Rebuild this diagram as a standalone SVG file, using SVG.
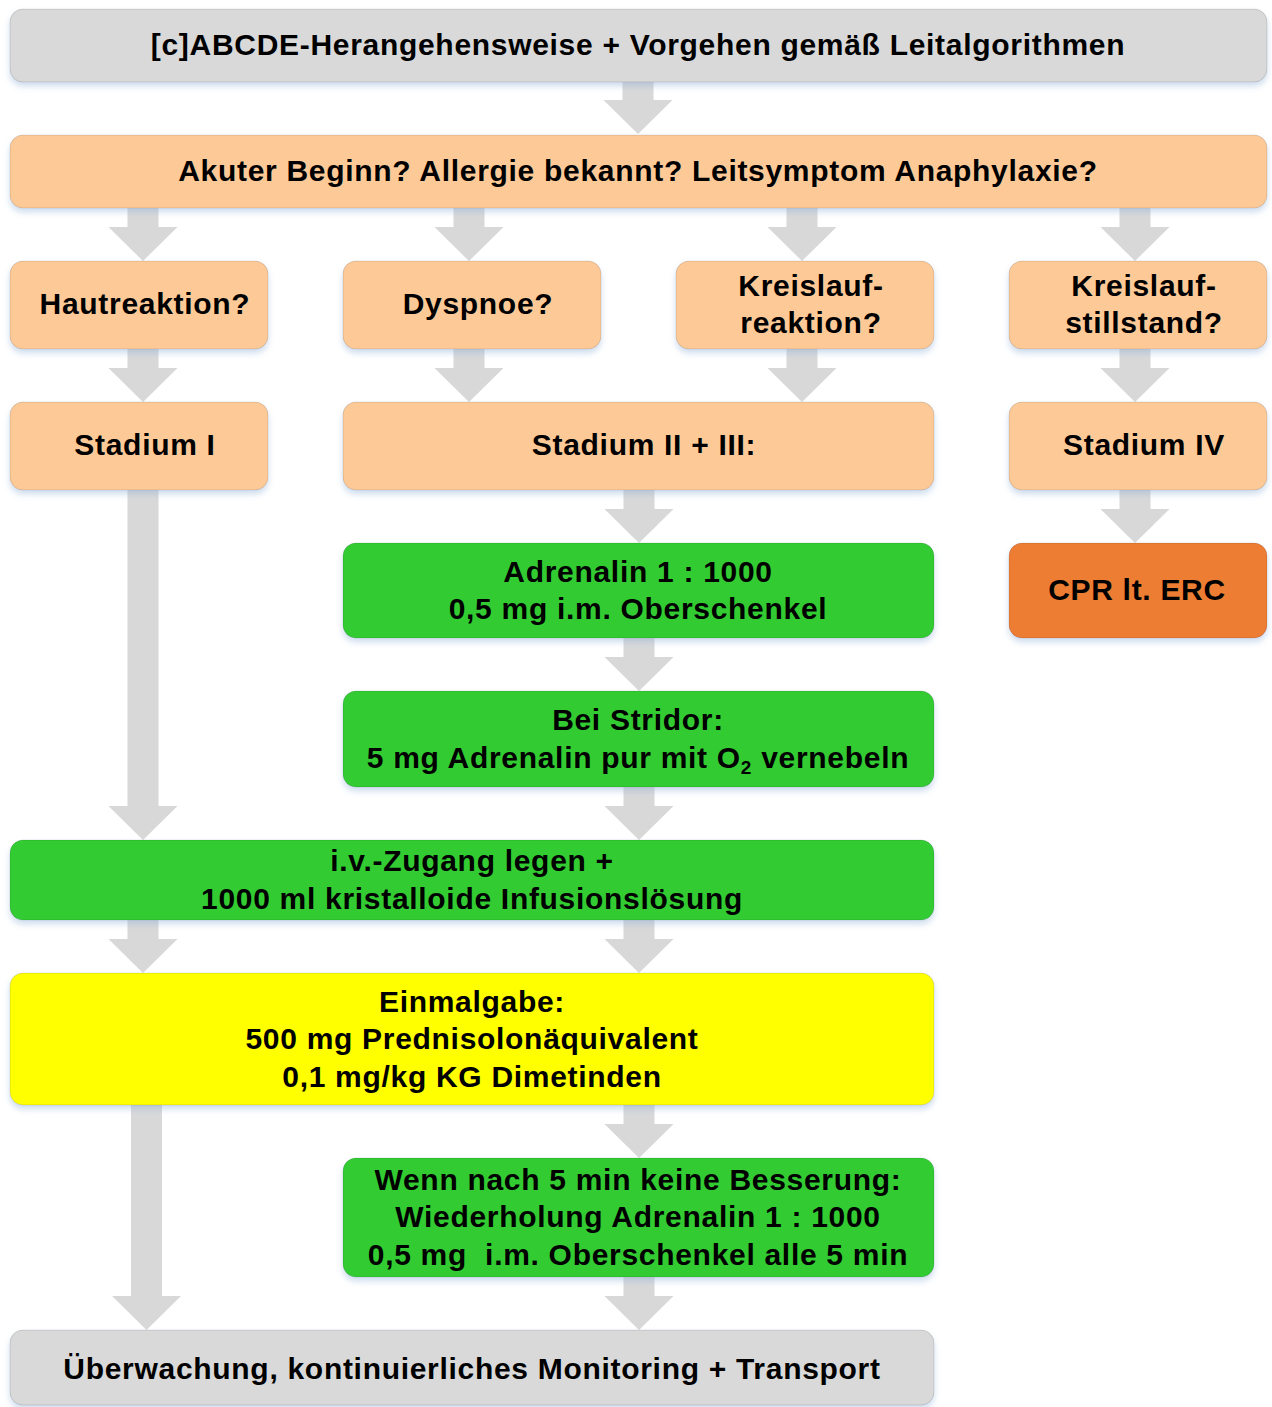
<svg xmlns="http://www.w3.org/2000/svg" width="1272" height="1407" viewBox="0 0 1272 1407">
<defs>
<filter id="sh" x="-5%" y="-20%" width="110%" height="150%">
<feDropShadow dx="0" dy="4" stdDeviation="3" flood-color="#8fb0d8" flood-opacity="0.45"/>
</filter>
<style>
.box{stroke:#000;stroke-opacity:0.13;stroke-width:1;filter:url(#sh)}
.gray{fill:#d9d9d9}
.peach{fill:#fdca97}
.green{fill:#33cc33}
.yellow{fill:#ffff00}
.orange{fill:#ed7d31}
.arr{fill:#d8d8d8}
text{font-family:"Liberation Sans",Arial,sans-serif;font-weight:bold;font-size:30px;fill:#000;text-anchor:middle;letter-spacing:0.7px}
.sub{font-size:19px}
</style>
</defs>
<rect width="1272" height="1407" fill="#fff"/>
<g id="connectors">
<path class="arr" d="M622.5,82H653.5V100H672.5L638,134L603.5,100H622.5Z"/>
<path class="arr" d="M127.5,208H158.5V227H177.5L143,261L108.5,227H127.5Z"/>
<path class="arr" d="M453.5,208H484.5V227H503.5L469,261L434.5,227H453.5Z"/>
<path class="arr" d="M786.5,208H817.5V227H836.5L802,261L767.5,227H786.5Z"/>
<path class="arr" d="M1119.5,208H1150.5V227H1169.5L1135,261L1100.5,227H1119.5Z"/>
<path class="arr" d="M127.5,349H158.5V368H177.5L143,402L108.5,368H127.5Z"/>
<path class="arr" d="M453.5,349H484.5V368H503.5L469,402L434.5,368H453.5Z"/>
<path class="arr" d="M786.5,349H817.5V368H836.5L802,402L767.5,368H786.5Z"/>
<path class="arr" d="M1119.5,349H1150.5V368H1169.5L1135,402L1100.5,368H1119.5Z"/>
<path class="arr" d="M127.5,490H158.5V806H177.5L143,840L108.5,806H127.5Z"/>
<path class="arr" d="M623.5,490H654.5V509H673.5L639,543L604.5,509H623.5Z"/>
<path class="arr" d="M1119.5,490H1150.5V509H1169.5L1135,543L1100.5,509H1119.5Z"/>
<path class="arr" d="M623.5,638H654.5V657H673.5L639,691L604.5,657H623.5Z"/>
<path class="arr" d="M623.5,787H654.5V806H673.5L639,840L604.5,806H623.5Z"/>
<path class="arr" d="M127.5,920H158.5V939H177.5L143,973L108.5,939H127.5Z"/>
<path class="arr" d="M623.5,920H654.5V939H673.5L639,973L604.5,939H623.5Z"/>
<path class="arr" d="M131,1105H162V1296H181L146.5,1330L112,1296H131Z"/>
<path class="arr" d="M623.5,1105H654.5V1124H673.5L639,1158L604.5,1124H623.5Z"/>
<path class="arr" d="M623.5,1277H654.5V1296H673.5L639,1330L604.5,1296H623.5Z"/>
</g>
<g id="n-abcde"><rect class="box gray" x="10" y="9" width="1257" height="73" rx="13"/><text x="638" y="55">[c]ABCDE-Herangehensweise + Vorgehen gemäß Leitalgorithmen</text></g>
<g id="n-akut"><rect class="box peach" x="10" y="135" width="1257" height="73" rx="13"/><text x="638" y="181">Akuter Beginn? Allergie bekannt? Leitsymptom Anaphylaxie?</text></g>
<g id="n-haut"><rect class="box peach" x="10" y="261" width="258" height="88" rx="13"/><text x="145" y="314">Hautreaktion?</text></g>
<g id="n-dysp"><rect class="box peach" x="343" y="261" width="258" height="88" rx="13"/><text x="478" y="314">Dyspnoe?</text></g>
<g id="n-kreisr"><rect class="box peach" x="676" y="261" width="258" height="88" rx="13"/><text x="811" y="296">Kreislauf-</text><text x="811" y="333">reaktion?</text></g>
<g id="n-kreiss"><rect class="box peach" x="1009" y="261" width="258" height="88" rx="13"/><text x="1144" y="296">Kreislauf-</text><text x="1144" y="333">stillstand?</text></g>
<g id="n-st1"><rect class="box peach" x="10" y="402" width="258" height="88" rx="13"/><text x="145" y="455">Stadium I</text></g>
<g id="n-st23"><rect class="box peach" x="343" y="402" width="591" height="88" rx="13"/><text x="644" y="455">Stadium II + III:</text></g>
<g id="n-st4"><rect class="box peach" x="1009" y="402" width="258" height="88" rx="13"/><text x="1144" y="455">Stadium IV</text></g>
<g id="n-adr"><rect class="box green" x="343" y="543" width="591" height="95" rx="13"/><text x="638" y="582">Adrenalin 1 : 1000</text><text x="638" y="619">0,5 mg i.m. Oberschenkel</text></g>
<g id="n-cpr"><rect class="box orange" x="1009" y="543" width="258" height="95" rx="13"/><text x="1137" y="600">CPR lt. ERC</text></g>
<g id="n-stridor"><rect class="box green" x="343" y="691" width="591" height="96" rx="13"/><text x="638" y="768">5 mg Adrenalin pur mit O<tspan class="sub" dy="6">2</tspan><tspan dy="-6"> vernebeln</tspan></text><text x="638" y="730">Bei Stridor:</text></g>
<g id="n-iv"><rect class="box green" x="10" y="840" width="924" height="80" rx="13"/><text x="472" y="871">i.v.-Zugang legen +</text><text x="472" y="909">1000 ml kristalloide Infusionslösung</text></g>
<g id="n-einmal"><rect class="box yellow" x="10" y="973" width="924" height="132" rx="13"/><text x="472" y="1012">Einmalgabe:</text><text x="472" y="1049">500 mg Prednisolonäquivalent</text><text x="472" y="1087">0,1 mg/kg KG Dimetinden</text></g>
<g id="n-wenn"><rect class="box green" x="343" y="1158" width="591" height="119" rx="13"/><text x="638" y="1190">Wenn nach 5 min keine Besserung:</text><text x="638" y="1227">Wiederholung Adrenalin 1 : 1000</text><text x="638" y="1265" xml:space="preserve">0,5 mg  i.m. Oberschenkel alle 5 min</text></g>
<g id="n-ueber"><rect class="box gray" x="10" y="1330" width="924" height="75" rx="13"/><text x="472" y="1379">Überwachung, kontinuierliches Monitoring + Transport</text></g>
</svg>
